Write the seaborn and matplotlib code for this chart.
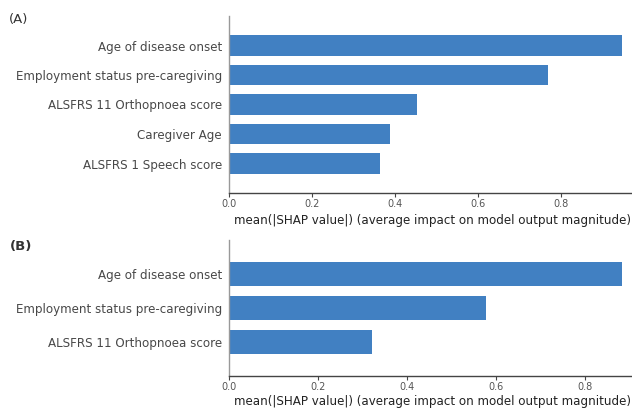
import matplotlib
matplotlib.use("Agg")
import matplotlib.pyplot as plt
import seaborn as sns
import pandas as pd

features_a = ["Age of disease onset", "Employment status pre-caregiving",
              "ALSFRS 11 Orthopnoea score", "Caregiver Age", "ALSFRS 1 Speech score"]
shap_a = [0.947, 0.769, 0.453, 0.388, 0.364]

features_b = ["Age of disease onset", "Employment status pre-caregiving",
              "ALSFRS 11 Orthopnoea score"]
shap_b = [0.883, 0.578, 0.321]

xticks = [0.0, 0.2, 0.4, 0.6, 0.8]
xlabel = "mean(|SHAP value|) (average impact on model output magnitude)"

sns.set_theme(style="white")
plt.rcParams['font.family'] = ['DejaVu Sans']

BAR = "#4180c2"
W, H = 632, 408
fig = plt.figure(figsize=(W / 100, H / 100), dpi=100)

def panel(rect, axw_px, feats, vals, label, label_xy, bold, labelpad):
    ax = fig.add_axes(rect)
    df = pd.DataFrame({"feature": feats, "value": vals})
    sns.barplot(data=df, y="feature", x="value", orient="h", color=BAR,
                width=0.7, saturation=1, linewidth=0, ax=ax)
    ax.set_ylim(len(feats), -1)
    ax.set_xlim(0, 1.0)
    ax.set_xticks(xticks)
    ax.set_xticklabels([f"{t:.1f}" for t in xticks])
    ax.set_ylabel("")
    ax.set_xlabel(xlabel, fontsize=8.6, color="#222222", labelpad=labelpad, loc="left")
    ax.xaxis.label.set_x(5 / axw_px)
    for s in ["top", "right"]:
        ax.spines[s].set_visible(False)
    ax.spines["left"].set_color("#999999")
    ax.spines["left"].set_linewidth(1.0)
    ax.spines["bottom"].set_color("#444444")
    ax.spines["bottom"].set_linewidth(1.0)
    ax.tick_params(axis="y", length=0, pad=5, labelsize=8.6, labelcolor="#484848")
    ax.tick_params(axis="x", bottom=True, length=3, width=0.8, color="#444444",
                   pad=1, labelsize=7, labelcolor="#555555")
    fig.text(label_xy[0] / W, 1 - label_xy[1] / H, label, fontsize=9.5,
             fontweight="bold" if bold else "normal", color="#333333",
             ha="left", va="center")
    return ax

x0 = 229 / W
axA = panel([x0, 1 - 193 / H, 415 / W, (193 - 16) / H], 415, features_a, shap_a,
            "(A)", (9, 20), False, 4)
axB = panel([x0, 1 - 376 / H, 445 / W, (376 - 240) / H], 445, features_b, shap_b,
            "(B)", (10, 247), True, 2.5)

fig.savefig("out.png", dpi=100)
